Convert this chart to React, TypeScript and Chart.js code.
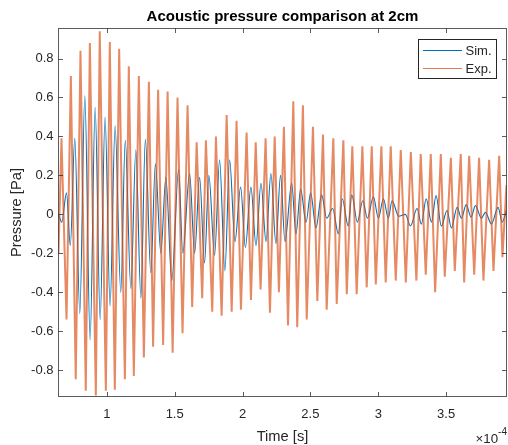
import React, { useEffect, useRef } from "react";
import { Chart, registerables } from "chart.js";

Chart.register(...registerables);

const TITLE = "Acoustic pressure comparison at 2cm";
const X_LABEL = "Time [s]";
const Y_LABEL = "Pressure [Pa]";
const X_EXPONENT = "-4";
const SERIES_NAMES = ["Sim.", "Exp."];

// time axis in units of 1e-4 s
const xTicks = [1, 1.5, 2, 2.5, 3, 3.5];
const yTicks = [-0.8, -0.6, -0.4, -0.2, 0, 0.2, 0.4, 0.6, 0.8];
const xRange = [0.644, 3.945];
const yRange = [-0.935, 0.954];

// Simulation: successive extremes of the waveform
const simTime = [
  0.644, 0.668, 0.703, 0.731, 0.764, 0.801, 0.838, 0.877, 0.914, 0.951,
  0.987, 1.024, 1.061, 1.103, 1.136, 1.177, 1.214, 1.251, 1.284, 1.324,
  1.358, 1.398, 1.435, 1.479, 1.529, 1.56, 1.61, 1.647, 1.684, 1.72,
  1.752, 1.794, 1.831, 1.87, 1.905, 1.944, 1.986, 2.021, 2.062, 2.099,
  2.136, 2.173, 2.209, 2.246, 2.28, 2.313, 2.362, 2.394, 2.428, 2.468,
  2.502, 2.541, 2.583, 2.62, 2.664, 2.706, 2.735, 2.779, 2.805, 2.846,
  2.886, 2.92, 2.964, 3.001, 3.038, 3.074, 3.102, 3.151, 3.2, 3.237,
  3.286, 3.318, 3.353, 3.392, 3.426, 3.465, 3.507, 3.539, 3.581, 3.613,
  3.648, 3.684, 3.716, 3.76, 3.79, 3.834, 3.883, 3.913, 3.945,
];
const simValue = [
  0.0, -0.04, 0.11, -0.16, 0.39, -0.51, 0.61, -0.645, 0.55, -0.54,
  0.5, -0.47, 0.455, -0.4, 0.38, -0.38, 0.33, -0.43, 0.385, -0.3,
  0.26, -0.2, 0.19, -0.34, 0.23, -0.2, 0.21, -0.2, 0.19, -0.25,
  0.2, -0.21, 0.28, -0.29, 0.28, -0.14, 0.14, -0.17, 0.14, -0.16,
  0.16, -0.14, 0.21, -0.15, 0.2, -0.14, 0.16, -0.1, 0.13, -0.04,
  0.11, -0.07, 0.1, -0.02, 0.03, -0.1, 0.08, -0.06, 0.1, -0.04,
  0.07, -0.02, 0.09, -0.02, 0.08, -0.02, 0.07, -0.01, 0.0, -0.06,
  0.03, -0.05, 0.08, -0.04, 0.096, -0.06, 0.02, -0.07, 0.036, -0.02,
  0.05, -0.015, 0.045, -0.02, 0.01, -0.05, 0.036, -0.04, 0.02,
];

// Experiment: positive peaks, negative peaks and end values
const expPeakTime = [
  0.666, 0.735, 0.806, 0.875, 0.948, 1.022, 1.091, 1.162, 1.236, 1.31,
  1.378, 1.448, 1.521, 1.595, 1.662, 1.73, 1.804, 1.883, 1.956, 2.03,
  2.097, 2.17, 2.237, 2.305, 2.374, 2.445, 2.519, 2.593, 2.669, 2.743,
  2.809, 2.883, 2.952, 3.023, 3.092, 3.166, 3.24, 3.313, 3.387, 3.461,
  3.535, 3.608, 3.67, 3.743, 3.817, 3.891,
];
const expPeakValue = [
  0.39, 0.71, 0.84, 0.88, 0.94, 0.885, 0.85, 0.76, 0.71, 0.68,
  0.64, 0.63, 0.6, 0.56, 0.37, 0.38, 0.4, 0.51, 0.48, 0.42,
  0.37, 0.39, 0.4, 0.45, 0.58, 0.56, 0.45, 0.41, 0.39, 0.38,
  0.35, 0.35, 0.35, 0.35, 0.35, 0.33, 0.32, 0.31, 0.31, 0.31,
  0.29, 0.31, 0.3, 0.29, 0.28, 0.3,
];
const expTroughTime = [
  0.703, 0.771, 0.845, 0.919, 0.993, 1.059, 1.133, 1.199, 1.273, 1.341,
  1.415, 1.485, 1.558, 1.629, 1.703, 1.777, 1.846, 1.92, 1.988, 2.062,
  2.133, 2.202, 2.268, 2.335, 2.403, 2.473, 2.551, 2.62, 2.694, 2.768,
  2.841, 2.915, 2.982, 3.055, 3.129, 3.203, 3.281, 3.35, 3.419, 3.49,
  3.564, 3.633, 3.707, 3.775, 3.849, 3.915,
];
const expTroughValue = [
  -0.54, -0.846, -0.906, -0.93, -0.906, -0.9, -0.846, -0.83, -0.735, -0.68,
  -0.67, -0.71, -0.61, -0.475, -0.43, -0.5, -0.52, -0.5, -0.49, -0.44,
  -0.385, -0.505, -0.4, -0.57, -0.58, -0.54, -0.445, -0.49, -0.46, -0.41,
  -0.41, -0.375, -0.36, -0.35, -0.34, -0.35, -0.34, -0.31, -0.4, -0.32,
  -0.29, -0.35, -0.31, -0.34, -0.29, -0.22,
];
const expEdgeTime = [0.644, 3.945];
const expEdgeValue = [-0.2, 0.15];

const SIM_COLOR = "rgb(0,114,189)";
const EXP_COLOR = "rgba(217,83,25,0.68)";
const EXP_LEGEND_COLOR = "rgba(217,83,25,0.75)";
const TEXT_COLOR = "#262626";
const FONT = "'Liberation Sans', Arial, Helvetica, sans-serif";

function buildPoints(times: number[], values: number[]) {
  return times.map((t, i) => ({ x: t, y: values[i] }));
}

const framePlugin = {
  id: "matlabFrame",
  afterDraw(chart: any) {
    const ctx = chart.ctx as CanvasRenderingContext2D;
    const a = chart.chartArea;
    const xs = chart.scales.x;
    const ys = chart.scales.y;
    ctx.save();
    // box
    ctx.strokeStyle = "rgba(38,38,38,0.75)";
    ctx.lineWidth = 1;
    ctx.strokeRect(a.left, a.top, a.right - a.left, a.bottom - a.top);
    // inward ticks
    const tl = 4.5;
    ctx.beginPath();
    xTicks.forEach((v) => {
      const px = Math.round(xs.getPixelForValue(v)) + 0.5;
      ctx.moveTo(px, a.bottom);
      ctx.lineTo(px, a.bottom - tl);
      ctx.moveTo(px, a.top);
      ctx.lineTo(px, a.top + tl);
    });
    yTicks.forEach((v) => {
      const py = Math.round(ys.getPixelForValue(v)) + 0.5;
      ctx.moveTo(a.left, py);
      ctx.lineTo(a.left + tl, py);
      ctx.moveTo(a.right, py);
      ctx.lineTo(a.right - tl, py);
    });
    ctx.stroke();

    const cx = (a.left + a.right) / 2;
    ctx.fillStyle = "#000";
    ctx.textAlign = "center";
    ctx.textBaseline = "alphabetic";
    ctx.font = `bold 15px ${FONT}`;
    ctx.fillText(TITLE, cx, 20.5);

    ctx.fillStyle = TEXT_COLOR;
    ctx.font = `14.7px ${FONT}`;
    ctx.fillText(X_LABEL, cx, 440.5);

    ctx.save();
    ctx.translate(20.5, (a.top + a.bottom) / 2);
    ctx.rotate(-Math.PI / 2);
    ctx.textAlign = "center";
    ctx.fillText(Y_LABEL, 0, 0);
    ctx.restore();

    // exponent label
    ctx.textAlign = "right";
    ctx.font = `10px ${FONT}`;
    const expW = ctx.measureText(X_EXPONENT).width;
    ctx.fillText(X_EXPONENT, 507, 435);
    ctx.font = `13.3px ${FONT}`;
    ctx.fillText("\u00d710", 507 - expW, 443);

    // legend
    const lx = 418.5, ly = 39.5, lw = 78, lh = 39;
    ctx.fillStyle = "#fff";
    ctx.fillRect(lx, ly, lw, lh);
    ctx.strokeStyle = TEXT_COLOR;
    ctx.lineWidth = 1;
    ctx.strokeRect(lx, ly, lw, lh);
    const rows = [
      { name: SERIES_NAMES[0], color: SIM_COLOR, y: 50.5 },
      { name: SERIES_NAMES[1], color: EXP_LEGEND_COLOR, y: 68.5 },
    ];
    ctx.font = `13px ${FONT}`;
    ctx.textAlign = "left";
    ctx.textBaseline = "middle";
    rows.forEach((r) => {
      ctx.strokeStyle = r.color;
      ctx.lineWidth = 1.2;
      ctx.beginPath();
      ctx.moveTo(423, r.y);
      ctx.lineTo(462, r.y);
      ctx.stroke();
      ctx.fillStyle = TEXT_COLOR;
      ctx.fillText(r.name, 465.5, r.y + 1);
    });
    ctx.restore();
  },
};

export default function App() {
  const ref = useRef<HTMLCanvasElement | null>(null);

  useEffect(() => {
    document.body.style.margin = "0";
    const canvas = ref.current;
    if (!canvas) return;
    const expTimes = [...expEdgeTime, ...expPeakTime, ...expTroughTime];
    const expVals = [...expEdgeValue, ...expPeakValue, ...expTroughValue];
    const expPoints = buildPoints(expTimes, expVals).sort((p, q) => p.x - q.x);
    const simPoints = buildPoints(simTime, simValue);

    const chart = new Chart(canvas, {
      type: "line",
      data: {
        datasets: [
          {
            label: SERIES_NAMES[0],
            data: simPoints,
            borderColor: SIM_COLOR,
            borderWidth: 1.1,
            pointRadius: 0,
            cubicInterpolationMode: "monotone",
            order: 2,
          },
          {
            label: SERIES_NAMES[1],
            data: expPoints,
            borderColor: EXP_COLOR,
            borderWidth: 2,
            pointRadius: 0,
            tension: 0,
            order: 1,
          },
        ],
      },
      options: {
        animation: false,
        responsive: false,
        devicePixelRatio: 1,
        events: [],
        layout: { padding: { top: 28.5, right: 1.5, left: 0, bottom: 0 } },
        plugins: {
          legend: { display: false },
          title: { display: false },
          tooltip: { enabled: false },
        },
        scales: {
          x: {
            type: "linear",
            min: xRange[0],
            max: xRange[1],
            afterBuildTicks: (s: any) => {
              s.ticks = xTicks.map((v) => ({ value: v }));
            },
            afterFit: (s: any) => {
              s.height = 48.5;
            },
            grid: { display: false, drawTicks: false },
            border: { display: false },
            ticks: {
              autoSkip: false,
              maxRotation: 0,
              padding: 10.5,
              color: TEXT_COLOR,
              font: { family: FONT, size: 13 },
              callback: (v: any) => String(v),
            },
          },
          y: {
            type: "linear",
            min: yRange[0],
            max: yRange[1],
            afterBuildTicks: (s: any) => {
              s.ticks = yTicks.map((v) => ({ value: v }));
            },
            afterFit: (s: any) => {
              s.width = 58.5;
            },
            grid: { display: false, drawTicks: false },
            border: { display: false },
            ticks: {
              autoSkip: false,
              padding: 5,
              color: TEXT_COLOR,
              font: { family: FONT, size: 13 },
              callback: (v: any) => String(v),
            },
          },
        },
      },
      plugins: [framePlugin],
    });
    return () => chart.destroy();
  }, []);

  return (
    <div style={{ position: "absolute", left: 0, top: 0, width: 508, height: 445, background: "#fff" }}>
      <canvas ref={ref} width={508} height={445} style={{ width: 508, height: 445, display: "block" }} />
    </div>
  );
}
